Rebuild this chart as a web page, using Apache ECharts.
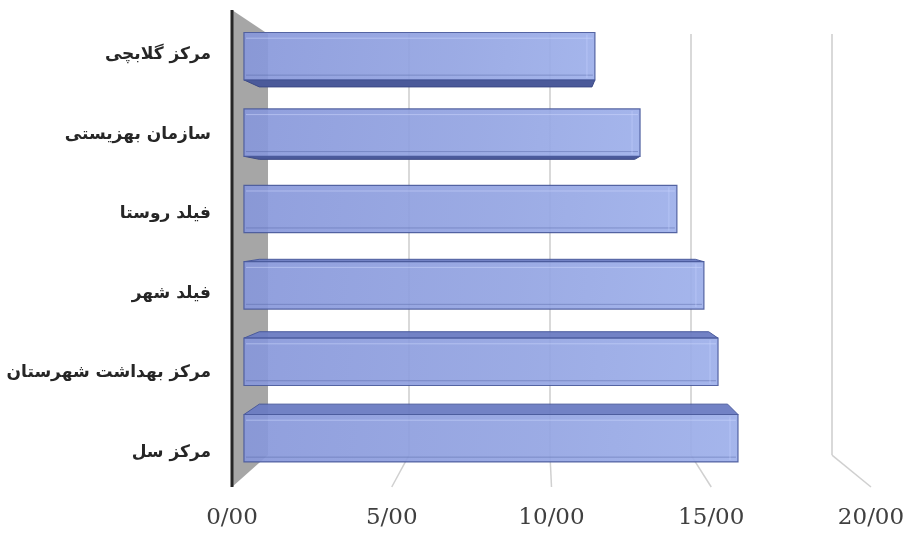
<!DOCTYPE html>
<html>
<head>
<meta charset="utf-8">
<script src="https://cdn.jsdelivr.net/npm/echarts@6/dist/echarts.min.js"></script>
<style>
  html, body { margin: 0; padding: 0; background: #ffffff; }
  #chart { width: 908px; height: 533px; }
</style>
</head>
<body>
<div id="chart"></div>
<script>
// Categories listed top to bottom
const categories = ['مرکز گلابچی', 'سازمان بهزیستی', 'فیلد روستا', 'فیلد شهر', 'مرکز بهداشت شهرستان', 'مرکز سل'];
const values = [11.43, 12.90, 14.10, 14.98, 15.44, 16.09];
const xTicks = [0, 5, 10, 15, 20];
const xTickLabels = ['0/00', '5/00', '10/00', '15/00', '20/00'];

// Simple one-point perspective: points recede toward a vanishing point
const VP_FX = 0.48, VP_FY = 0.43;    // vanishing point as fraction of grid rect
const BACK = 0.1174;                 // depth of the back wall
const BAR_FRONT = 0.039, BAR_BACK = 0.089;

function vanish(cs) {
  return [cs.x + cs.width * VP_FX, cs.y + cs.height * VP_FY];
}
function proj(pt, vp, s) {
  return [pt[0] + (vp[0] - pt[0]) * s, pt[1] + (vp[1] - pt[1]) * s];
}

function renderFrame(params, api) {
  const cs = params.coordSys;
  const vp = vanish(cs);
  const v = api.value(0);
  const x = api.coord([v, 0])[0];
  const top = [x, cs.y], bot = [x, cs.y + cs.height];
  if (v === 0) {
    return {
      type: 'group',
      children: [
        {
          type: 'polygon',
          shape: { points: [top, proj(top, vp, BACK), proj(bot, vp, BACK), bot] },
          style: { fill: '#a6a6a6' }
        },
        {
          type: 'line',
          shape: { x1: x, y1: cs.y, x2: x, y2: cs.y + cs.height },
          style: { stroke: '#262626', lineWidth: 3 }
        }
      ]
    };
  }
  const bt = proj(top, vp, BACK), bb = proj(bot, vp, BACK);
  return {
    type: 'group',
    children: [
      {
        type: 'line',
        shape: { x1: bt[0], y1: bt[1], x2: bb[0], y2: bb[1] },
        style: { stroke: '#d9d9d9', lineWidth: 2 }
      },
      {
        type: 'line',
        shape: { x1: bb[0], y1: bb[1], x2: bot[0], y2: bot[1] },
        style: { stroke: '#d0d0d0', lineWidth: 1.5 }
      }
    ]
  };
}

function renderBar(params, api) {
  const cs = params.coordSys;
  const vp = vanish(cs);
  const v = api.value(0);
  const idx = api.value(1);
  const p0 = api.coord([0, idx]);
  const p1 = api.coord([v, idx]);
  const h = api.size([0, 1])[1] * 0.62;
  const yT = p0[1] - h / 2, yB = p0[1] + h / 2;
  const x0 = p0[0], x1 = p1[0];
  const P = (x, y, s) => proj([x, y], vp, s);

  const children = [];
  const fTL = P(x0, yT, BAR_FRONT), fTR = P(x1, yT, BAR_FRONT);
  const fBL = P(x0, yB, BAR_FRONT), fBR = P(x1, yB, BAR_FRONT);

  if (fTL[1] > vp[1]) {
    // top face visible from above
    children.push({
      type: 'polygon',
      shape: { points: [fTL, fTR, P(x1, yT, BAR_BACK), P(x0, yT, BAR_BACK)] },
      style: { fill: '#6a7bc2', stroke: '#46569a', lineWidth: 1, opacity: 0.95 }
    });
  }
  if (fBL[1] < vp[1]) {
    // underside visible from below
    children.push({
      type: 'polygon',
      shape: { points: [fBL, fBR, P(x1, yB, BAR_BACK), P(x0, yB, BAR_BACK)] },
      style: { fill: '#4b5a9a', stroke: '#3c4a86', lineWidth: 1 }
    });
  }
  if (fTR[0] < vp[0]) {
    children.push({
      type: 'polygon',
      shape: { points: [fTR, P(x1, yT, BAR_BACK), P(x1, yB, BAR_BACK), fBR] },
      style: { fill: '#7182c8', stroke: '#46569a', lineWidth: 1 }
    });
  }
  // front face
  children.push({
    type: 'polygon',
    shape: { points: [fTL, fTR, fBR, fBL] },
    style: {
      fill: new echarts.graphic.LinearGradient(0, 0, 1, 1, [
        { offset: 0, color: '#8797da' },
        { offset: 0.6, color: '#93a4e2' },
        { offset: 1, color: '#9dafea' }
      ]),
      stroke: '#4a5a9b',
      lineWidth: 1.2,
      opacity: 0.92
    }
  });
  // bevel lines on the front face
  const bh = fBL[1] - fTL[1];
  children.push({
    type: 'line',
    shape: { x1: fTL[0] + 2, y1: fTL[1] + bh * 0.12, x2: fTR[0] - 2, y2: fTR[1] + bh * 0.12 },
    style: { stroke: 'rgba(210,220,255,0.5)', lineWidth: 1 }
  });
  children.push({
    type: 'line',
    shape: { x1: fBL[0] + 2, y1: fBL[1] - bh * 0.1, x2: fBR[0] - 2, y2: fBR[1] - bh * 0.1 },
    style: { stroke: 'rgba(85,100,165,0.45)', lineWidth: 1 }
  });
  children.push({
    type: 'line',
    shape: { x1: fTR[0] - 8, y1: fTR[1] + 2, x2: fBR[0] - 8, y2: fBR[1] - 2 },
    style: { stroke: 'rgba(200,212,255,0.5)', lineWidth: 1 }
  });
  return { type: 'group', children: children };
}

const chart = echarts.init(document.getElementById('chart'), null, { renderer: 'canvas' });
chart.setOption({
  backgroundColor: '#ffffff',
  animation: false,
  grid: { left: 232, right: 37, top: 10, bottom: 46, containLabel: false },
  xAxis: {
    type: 'value',
    min: 0,
    max: 20,
    interval: 5,
    axisLine: { show: false },
    axisTick: { show: false },
    splitLine: { show: false },
    axisLabel: {
      margin: 20,
      fontFamily: 'DejaVu Serif',
      fontSize: 23,
      color: '#404040',
      formatter: function (val) {
        const i = xTicks.indexOf(val);
        return i >= 0 ? xTickLabels[i] : '';
      }
    }
  },
  yAxis: {
    type: 'category',
    data: categories,
    inverse: true,
    axisLine: { show: false },
    axisTick: { show: false },
    splitLine: { show: false },
    axisLabel: {
      margin: 21,
      fontFamily: 'DejaVu Sans',
      fontWeight: 'bold',
      fontSize: 17,
      color: '#262626',
      verticalAlign: 'top',
      lineHeight: 10
    }
  },
  series: [
    {
      type: 'custom',
      name: 'frame',
      clip: false,
      silent: true,
      z: 1,
      renderItem: renderFrame,
      data: xTicks.map(t => [t, 0])
    },
    {
      type: 'custom',
      name: 'bars',
      clip: false,
      z: 2,
      renderItem: renderBar,
      encode: { x: 0, y: 1 },
      data: values.map((v, i) => [v, i])
    }
  ]
});
</script>
</body>
</html>
